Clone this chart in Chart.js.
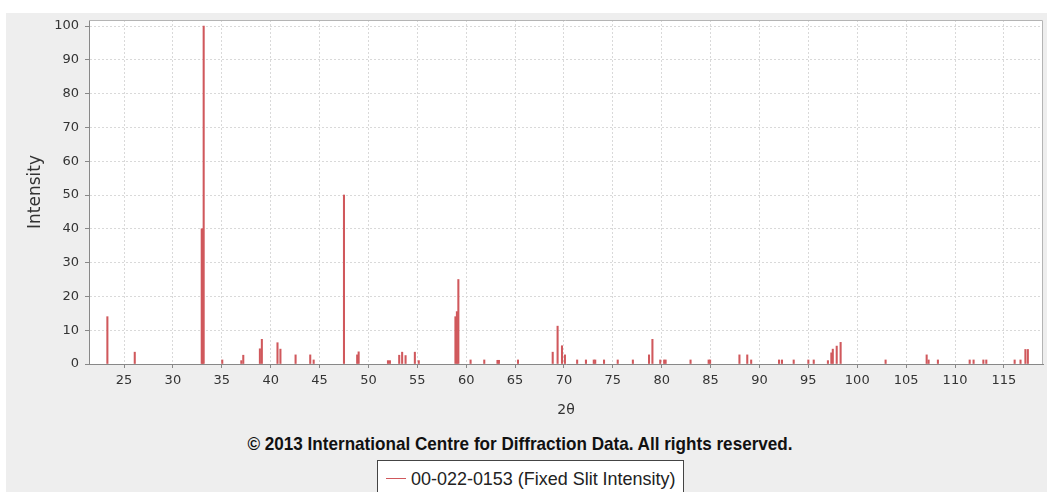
<!DOCTYPE html>
<html lang="en">
<head>
<meta charset="utf-8">
<title>00-022-0153 (Fixed Slit Intensity)</title>
<script src="https://cdn.jsdelivr.net/npm/chart.js@4.4.0/dist/chart.umd.min.js"></script>
<style>
    body {
        margin: 0;
        width: 1047px;
        height: 492px;
        overflow: hidden;
        position: relative;
        background: #ffffff;
        font-family: "Liberation Sans", Arial, sans-serif;
    }

    #fundo {
        position: absolute;
        left: 6px;
        top: 13px;
        right: 0;
        bottom: 0;
        background: #eeeeee;
    }

    #grafico_difracao {
        position: absolute;
        left: 0;
        top: 0;
    }

    #copyright {
        position: absolute;
        left: 0;
        top: 433px;
        width: 1040px;
        text-align: center;
        font-family: "Liberation Sans", Arial, sans-serif;
        font-weight: bold;
        font-size: 19px;
        line-height: 22px;
        color: #111111;
        transform: scaleX(0.9);
        transform-origin: 520px 0;
    }

    #legenda {
        position: absolute;
        left: 377px;
        top: 460px;
        width: 305px;
        height: 40px;
        border: 1px solid #444444;
        background: #ffffff;
    }

    #legenda .linha {
        position: absolute;
        left: 8px;
        top: 17px;
        width: 20px;
        height: 1px;
        background: #d0585c;
    }

    #legenda .texto {
        position: absolute;
        left: 33px;
        top: 7px;
        font-family: "Liberation Sans", Arial, sans-serif;
        font-size: 19px;
        line-height: 22px;
        color: #222222;
        white-space: nowrap;
        transform: scaleX(0.945);
        transform-origin: 0 0;
    }
</style>
</head>
<body>
<div id="fundo"></div>
<canvas id="grafico_difracao" width="1047" height="430"></canvas>
<div id="copyright">© 2013 International Centre for Diffraction Data. All rights reserved.</div>
<div id="legenda"><div class="linha"></div><div class="texto" id="nome_serie"></div></div>

<script>
// posições dos picos (2θ) e intensidades relativas
let doisTheta = [
    23.3, 26.1, 32.95, 33.05, 33.15, 35.05, 37.0, 37.2, 38.9, 39.1,
    40.7, 41.0, 42.55, 44.05, 44.4, 47.5, 48.85, 49.0, 52.0, 52.2,
    53.15, 53.45, 53.8, 54.75, 55.15, 58.9, 59.05, 59.2, 60.45, 61.85,
    63.2, 63.35, 65.3, 68.85, 69.35, 69.8, 70.1, 71.35, 72.25, 73.05,
    73.2, 74.1, 75.5, 77.05, 78.7, 79.05, 79.85, 80.25, 80.4, 82.95,
    84.8, 84.95, 87.95, 88.75, 89.15, 92.0, 92.3, 93.5, 95.0, 95.55,
    97.0, 97.35, 97.5, 97.9, 98.3, 102.9, 107.1, 107.3, 108.25, 111.5,
    111.9, 112.9, 113.2, 116.1, 116.7, 117.2, 117.45
];

let intensidade = [
    14, 3.5, 40, 40, 100, 1.2, 1.0, 2.6, 4.5, 7.3,
    6.3, 4.4, 2.7, 2.7, 1.2, 50, 2.7, 3.6, 1.0, 1.0,
    2.6, 3.5, 2.5, 3.5, 1.0, 14, 15.5, 25, 1.2, 1.2,
    1.1, 1.1, 1.2, 3.5, 11.2, 5.4, 2.7, 1.2, 1.2, 1.2,
    1.2, 1.2, 1.2, 1.2, 2.7, 7.3, 1.2, 1.2, 1.2, 1.2,
    1.2, 1.2, 2.7, 2.7, 1.2, 1.2, 1.2, 1.2, 1.2, 1.2,
    1.0, 3.3, 4.4, 5.3, 6.4, 1.2, 2.7, 1.2, 1.2, 1.2,
    1.2, 1.2, 1.2, 1.2, 1.2, 4.3, 4.3
];

let ticksX = [25, 30, 35, 40, 45, 50, 55, 60, 65, 70, 75, 80, 85, 90, 95, 100, 105, 110, 115];
let ticksY = [0, 10, 20, 30, 40, 50, 60, 70, 80, 90, 100];

let nomeSerie = "00-022-0153 (Fixed Slit Intensity)";

let graficoDifracao;

function montarPontos() {
    let pontos = [];

    for (let i = 0; i < doisTheta.length; i++) {
        pontos.push({ x: doisTheta[i], y: intensidade[i] });
    }

    return pontos;
}

// fundo branco e moldura da área do gráfico
let pluginAreaBranca = {
    id: "areaBranca",
    beforeDraw: function (chart) {
        let area = chart.chartArea;
        let ctx = chart.ctx;
        ctx.save();
        ctx.fillStyle = "#ffffff";
        ctx.fillRect(area.left, area.top, area.right - area.left, area.bottom - area.top);
        ctx.restore();
    },
    afterDraw: function (chart) {
        let area = chart.chartArea;
        let ctx = chart.ctx;
        ctx.save();
        ctx.strokeStyle = "#b4b4b4";
        ctx.lineWidth = 1;
        ctx.beginPath();
        ctx.moveTo(area.left, area.top + 0.5);
        ctx.lineTo(area.right - 0.5, area.top + 0.5);
        ctx.lineTo(area.right - 0.5, area.bottom);
        ctx.stroke();
        ctx.restore();
    }
};

function criarGrafico() {
    let ctx = document.getElementById("grafico_difracao");

    nome_serie.innerHTML = nomeSerie;

    if (graficoDifracao != undefined) {
        graficoDifracao.destroy();
    }

    graficoDifracao = new Chart(ctx, {
        type: "bar",
        data: {
            datasets: [
                {
                    label: nomeSerie,
                    data: montarPontos(),
                    backgroundColor: "#d0585c",
                    borderWidth: 0,
                    barThickness: 1.4
                }
            ]
        },
        options: {
            responsive: false,
            animation: false,
            layout: {
                padding: { top: 20, right: 4, left: 0, bottom: 0 }
            },
            plugins: {
                legend: { display: false },
                tooltip: { enabled: false }
            },
            scales: {
                x: {
                    type: "linear",
                    min: 21.42,
                    max: 119.0,
                    offset: false,
                    afterBuildTicks: function (escala) {
                        escala.ticks = ticksX.map(function (v) { return { value: v }; });
                    },
                    afterFit: function (escala) {
                        escala.height = 66;
                    },
                    grid: {
                        offset: false,
                        color: "#d9d9d9",
                        tickColor: "#888888",
                        tickLength: 4
                    },
                    border: {
                        color: "#888888",
                        dash: [2, 2]
                    },
                    ticks: {
                        color: "#333333",
                        font: { family: "DejaVu Sans", size: 13 },
                        padding: 5,
                        maxRotation: 0,
                        autoSkip: false
                    },
                    title: {
                        display: true,
                        text: "2θ",
                        color: "#333333",
                        font: { family: "DejaVu Sans", size: 14 },
                        padding: { top: 0, bottom: 11 }
                    }
                },
                y: {
                    min: 0,
                    max: 101.78,
                    afterBuildTicks: function (escala) {
                        escala.ticks = ticksY.map(function (v) { return { value: v }; });
                    },
                    afterFit: function (escala) {
                        escala.width = 89;
                    },
                    grid: {
                        color: "#d9d9d9",
                        tickColor: "#888888",
                        tickLength: 4
                    },
                    border: {
                        color: "#888888",
                        dash: [2, 2]
                    },
                    ticks: {
                        color: "#333333",
                        font: { family: "DejaVu Sans", size: 13 },
                        padding: 6
                    },
                    title: {
                        display: true,
                        text: "Intensity",
                        color: "#333333",
                        font: { family: "DejaVu Sans", size: 17 },
                        padding: { top: 25, bottom: 0 }
                    }
                }
            }
        },
        plugins: [pluginAreaBranca]
    });
}

criarGrafico();
</script>
</body>
</html>
